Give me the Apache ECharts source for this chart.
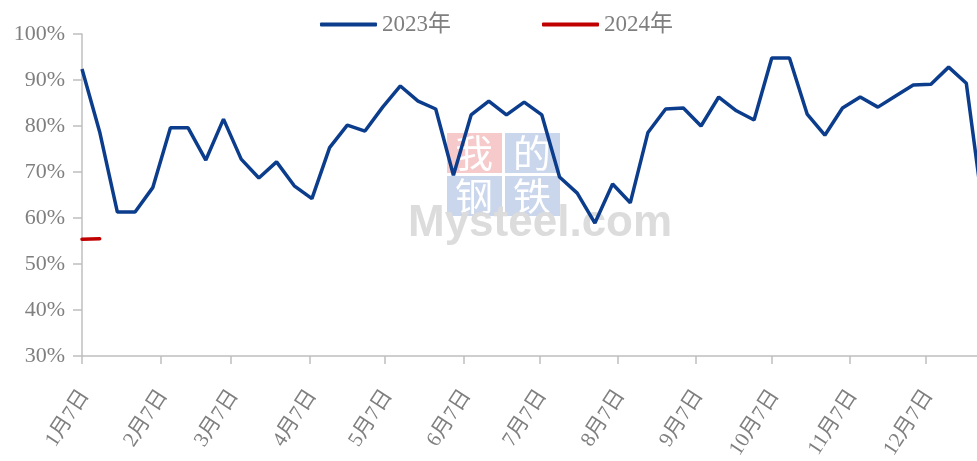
<!DOCTYPE html>
<html>
<head>
<meta charset="utf-8">
<script src="https://cdn.jsdelivr.net/npm/echarts@6/dist/echarts.min.js"></script>
<style>
	html, body { margin: 0; padding: 0; background: #fff; }
	#main { width: 977px; height: 461px; }
</style>
</head>
<body>
<div id="main"></div>
<script>
var startDate = '2023-01-07';
var weekCount = 52;
var tickDates = ['2023-01-07', '2023-02-07', '2023-03-07', '2023-04-07', '2023-05-07', '2023-06-07',
	'2023-07-07', '2023-08-07', '2023-09-07', '2023-10-07', '2023-11-07', '2023-12-07'];
var tickLabels = ['1月7日', '2月7日', '3月7日', '4月7日', '5月7日', '6月7日',
	'7月7日', '8月7日', '9月7日', '10月7日', '11月7日', '12月7日'];
var seriesNames = ['2023年', '2024年'];
var values2023 = [92.4, 78.7, 61.3, 61.3, 66.6, 79.6, 79.6, 72.6, 81.5, 72.8, 68.7, 72.2, 67.0,
	64.2, 75.3, 80.2, 78.9, 84.1, 88.7, 85.4, 83.7, 69.3, 82.4, 85.4, 82.4, 85.2,
	82.4, 68.9, 65.4, 58.9, 67.4, 63.3, 78.6, 83.7, 83.9, 80.0, 86.3, 83.3, 81.3,
	94.8, 94.8, 82.6, 78.0, 83.9, 86.3, 84.1, 86.5, 88.9, 89.1, 92.8, 89.3, 60.2];
var values2024 = [55.4, 55.5];
var yTicks = { min: 30, max: 100, step: 10 };

;(function (win) {
	var DAY = 86400000;
	var t0 = Date.parse(startDate);
	var dayOf = function (d) {
		return Math.round((Date.parse(d) - t0) / DAY);
	};
	var tickDays = tickDates.map(dayOf);
	var toPairs = function (arr) {
		var out = [];
		for (var i = 0; i < arr.length; i++) {
			out.push([i * 7, arr[i]]);
		}
		return out;
	};
	var serif = "'Liberation Serif', 'Times New Roman', 'Noto Sans CJK SC', serif";
	var grey = '#7f7f7f';
	var axisGrey = '#bfbfbf';
	var wmFont = '38px "Noto Sans CJK SC"';

	var chart = echarts.init(document.getElementById('main'));
	var option = {
		animation: false,
		backgroundColor: '#fff',
		color: ['#0b3d8c', '#c00000'],
		legend: {
			left: 315,
			top: 8,
			itemWidth: 57,
			itemHeight: 4,
			itemGap: 91,
			icon: 'roundRect',
			textStyle: { color: grey, fontSize: 23, fontFamily: serif },
			data: seriesNames
		},
		grid: {
			left: 82,
			right: -7,
			top: 34,
			bottom: 105,
			outerBoundsMode: 'none'
		},
		xAxis: {
			type: 'value',
			min: 0,
			max: (weekCount - 1) * 7,
			splitLine: { show: false },
			axisLine: { lineStyle: { color: axisGrey, width: 1.5 } },
			axisTick: {
				show: true,
				length: 8,
				customValues: tickDays,
				lineStyle: { color: axisGrey, width: 1.5 }
			},
			axisLabel: {
				customValues: tickDays,
				rotate: 57,
				margin: 34,
				verticalAlign: 'top',
				lineHeight: 7,
				color: grey,
				fontSize: 21,
				fontFamily: serif,
				formatter: function (v) {
					var k = tickDays.indexOf(v);
					return k >= 0 ? tickLabels[k] : '';
				}
			}
		},
		yAxis: {
			type: 'value',
			min: yTicks.min,
			max: yTicks.max,
			interval: yTicks.step,
			splitLine: { show: false },
			axisLine: { show: true, lineStyle: { color: axisGrey, width: 1.5 } },
			axisTick: { show: true, length: 9, lineStyle: { color: axisGrey, width: 1.5 } },
			axisLabel: {
				margin: 17,
				color: grey,
				fontSize: 22,
				fontFamily: serif,
				formatter: '{value}%'
			}
		},
		graphic: [
			{ type: 'rect', shape: { x: 447, y: 133, width: 55, height: 40 }, style: { fill: '#f6c9cb' }, z: -1 },
			{ type: 'rect', shape: { x: 505, y: 133, width: 55, height: 40 }, style: { fill: '#cad6ec' }, z: -1 },
			{ type: 'rect', shape: { x: 447, y: 176, width: 55, height: 40 }, style: { fill: '#cad6ec' }, z: -1 },
			{ type: 'rect', shape: { x: 505, y: 176, width: 55, height: 40 }, style: { fill: '#cad6ec' }, z: -1 },
			{ type: 'text', x: 474, y: 153, z: -1, style: { text: '我', fill: '#fff', font: wmFont, align: 'center', verticalAlign: 'middle' } },
			{ type: 'text', x: 532, y: 153, z: -1, style: { text: '的', fill: '#fff', font: wmFont, align: 'center', verticalAlign: 'middle' } },
			{ type: 'text', x: 474, y: 196, z: -1, style: { text: '钢', fill: '#fff', font: wmFont, align: 'center', verticalAlign: 'middle' } },
			{ type: 'text', x: 532, y: 196, z: -1, style: { text: '铁', fill: '#fff', font: wmFont, align: 'center', verticalAlign: 'middle' } },
			{ type: 'text', x: 408, y: 202, z: -1, style: { text: 'Mysteel.com', fill: '#dcdcdc', font: 'bold 44px "Liberation Sans"', align: 'left', verticalAlign: 'top' } }
		],
		series: [
			{
				name: seriesNames[0],
				type: 'line',
				symbol: 'none',
				lineStyle: { width: 3.5 },
				data: toPairs(values2023)
			},
			{
				name: seriesNames[1],
				type: 'line',
				symbol: 'none',
				lineStyle: { width: 3.5, cap: 'round' },
				data: toPairs(values2024)
			}
		]
	};
	chart.setOption(option);
	win.chart = chart;
})(window);
</script>
</body>
</html>
